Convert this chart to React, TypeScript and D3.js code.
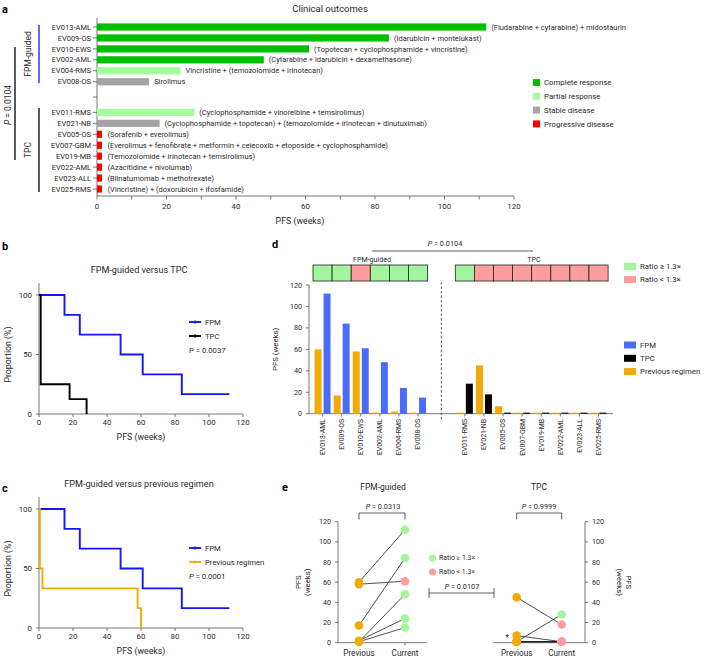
import React from "react";
import * as d3 from "d3";

// ---------- DATA ----------
const patients = ["EV013-AML","EV009-OS","EV010-EWS","EV002-AML","EV004-RMS","EV008-OS","EV011-RMS","EV021-NB","EV005-OS","EV007-GBM","EV019-MB","EV022-AML","EV023-ALL","EV025-RMS"];
const groupOf = ["FPM","FPM","FPM","FPM","FPM","FPM","TPC","TPC","TPC","TPC","TPC","TPC","TPC","TPC"];
const currentPFS = [112,84,61,48,24,15,28,18,1,1,1,1,1,1];
const previousPFS = [60,17,58,1,2,1,1,45,7,1,1,1,1,1];
const outcomes = ["CR","CR","CR","CR","PR","SD","PR","SD","PD","PD","PD","PD","PD","PD"];
const regimens = [
  "(Fludarabine + cytarabine) + midostaurin",
  "(Idarubicin + montelukast)",
  "(Topotecan + cyclophosphamide + vincristine)",
  "(Cytarabine + idarubicin + dexamethasone)",
  "Vincristine + (temozolomide + irinotecan)",
  "Sirolimus",
  "(Cyclophosphamide + vinorelbine + temsirolimus)",
  "(Cyclophosphamide + topotecan) + (temozolomide + irinotecan + dinutuximab)",
  "(Sorafenib + everolimus)",
  "(Everolimus + fenofibrate + metformin + celecoxib + etoposide + cyclophosphamide)",
  "(Temozolomide + irinotecan + temsirolimus)",
  "(Azacitidine + nivolumab)",
  "(Blinatumomab + methotrexate)",
  "(Vincristine) + (doxorubicin + ifosfamide)",
];
const ratioClass = ["hi","hi","lo","hi","hi","hi","hi","lo","lo","lo","lo","lo","lo","lo"];
const outcomeLabels = ["Complete response","Partial response","Stable disease","Progressive disease"];
const outcomeKeys = ["CR","PR","SD","PD"];

// Kaplan–Meier event times (weeks); censored flag
const kmFPM = [[15,0],[24,0],[48,0],[61,0],[84,0],[112,1]];
const kmTPC = [[1,0],[1,0],[1,0],[1,0],[1,0],[1,0],[18,0],[28,0]];
const kmPrev = [[0.5,0],[0.5,0],[0.5,0],[2,0],[58,0],[60,0]];

const kmTicksX = [0,20,40,60,80,100,120];
const kmTicksY = [0,50,100];
const pfsTicks = [0,20,40,60,80,100,120];

// ---------- STYLE ----------
const FONT = "Roboto, 'Liberation Sans', Arial, sans-serif";
const TXT = "#2a2a2a";
const AX = "#555";
const outColor: Record<string,string> = { CR: "#00bf00", PR: "#a3fd9d", SD: "#a4a4a4", PD: "#ff0000" };
const ratioColor: Record<string,string> = { hi: "#a3f59d", lo: "#ff9d9d" };
const BLUE_KM = "#1414ff";
const BLUE_BAR = "#4a6cfd";
const ORANGE = "#f2a900";

function kmSteps(ev: number[][]) {
  const sorted = [...ev].sort((a, b) => a[0] - b[0]);
  let n = sorted.length;
  let s = 100;
  const pts: [number, number][] = [[0, 100]];
  const times = Array.from(new Set(sorted.map(d => d[0])));
  for (const t of times) {
    const atT = sorted.filter(d => d[0] === t);
    const deaths = atT.filter(d => d[1] === 0).length;
    if (deaths > 0) s = s * (1 - deaths / n);
    pts.push([t, s]);
    n -= atT.length;
  }
  return pts;
}

function KMPanel({ top, title, series, legend, pText, italicP }: any) {
  const x = d3.scaleLinear().domain([0, 120]).range([39, 243]);
  const y = d3.scaleLinear().domain([0, 100]).range([top + 119, top]);
  const line = d3.line<[number, number]>().x(d => x(d[0])).y(d => y(d[1])).curve(d3.curveStepAfter);
  const axY = top + 119;
  return (
    <g>
      <line x1={39} x2={39} y1={top - 12} y2={axY} stroke={AX} strokeWidth={0.8} />
      <line x1={39} x2={243} y1={axY} y2={axY} stroke={AX} strokeWidth={0.8} />
      {kmTicksX.map(t => (
        <g key={t}>
          <line x1={x(t)} x2={x(t)} y1={axY} y2={axY + 3} stroke={AX} strokeWidth={0.8} />
          <text x={x(t)} y={axY + 11} textAnchor="middle" fontSize={7.9} fill={TXT}>{t}</text>
        </g>
      ))}
      {kmTicksY.map(t => (
        <g key={t}>
          <line x1={36} x2={39} y1={y(t)} y2={y(t)} stroke={AX} strokeWidth={0.8} />
          <text x={32} y={y(t)} dy="0.35em" textAnchor="end" fontSize={7.9} fill={TXT}>{t}</text>
        </g>
      ))}
      <text x={141} y={axY + 26} textAnchor="middle" fontSize={8.8} fill={TXT}>PFS (weeks)</text>
      <text transform={`translate(8,${y(50)}) rotate(-90)`} textAnchor="middle" dy="0.35em" fontSize={8.8} fill={TXT}>Proportion (%)</text>
      <text x={139} y={top - 22} textAnchor="middle" fontSize={9.1} fill={TXT}>{title}</text>
      {series.map((s: any, i: number) => (
        <path key={i} d={line(kmSteps(s.ev)) || ""} fill="none" stroke={s.color} strokeWidth={1.9} />
      ))}
      {legend.map((l: any, i: number) => (
        <g key={i}>
          <line x1={189} x2={201} y1={l.y} y2={l.y} stroke={l.color} strokeWidth={1.9} />
          <line x1={195} x2={195} y1={l.y - 2} y2={l.y + 2} stroke={l.color} strokeWidth={0.8} />
          <text x={205} y={l.y} dy="0.35em" fontSize={7.7} fill={TXT}>{l.label}</text>
        </g>
      ))}
      <text x={189} y={legend[legend.length - 1].y + 14} dy="0.35em" fontSize={7.7} fill={TXT}>
        {italicP ? <tspan fontStyle="italic">P</tspan> : "P"} = {pText}
      </text>
    </g>
  );
}

export default function App() {
  // ----- Panel a -----
  const xA = d3.scaleLinear().domain([0, 120]).range([97, 514]);
  const posA = d3.scaleLinear().domain([0, 14.8]).range([27, 189]);
  const slotA = (i: number) => (groupOf[i] === "FPM" ? i : 7.8 + (i - 6));
  const ticksA = d3.range(0, 121, 10);

  // ----- Panel d -----
  const yD = d3.scaleLinear().domain([0, 120]).range([413.7, 285]);
  const slotD = (i: number) => (groupOf[i] === "FPM" ? i : 7.45 + (i - 6));
  const stepD = 19.1;
  const xD0 = 313;
  const cx = (i: number) => xD0 + stepD * (slotD(i) + 0.5);
  const dashX = xD0 + stepD * 6.72;

  // ----- Panel e -----
  const yE = d3.scaleLinear().domain([0, 120]).range([642.7, 521.7]);
  const xEL = d3.scalePoint<string>().domain(["Previous", "Current"]).range([359, 405]);
  const xER = d3.scalePoint<string>().domain(["Previous", "Current"]).range([516.7, 561.7]);
  const fpmIdx = d3.range(0, 6);
  const tpcIdx = d3.range(6, 14);

  return (
    <svg width={711} height={660} style={{ position: "absolute", left: 0, top: 0, background: "#fff" }} fontFamily={FONT}>
      {/* ================= Panel a ================= */}
      <text x={2} y={13} fontSize={11} fontWeight="bold" fill="#000">a</text>
      <text x={330} y={12} textAnchor="middle" fontSize={9.5} fill={TXT}>Clinical outcomes</text>
      <line x1={97} x2={97} y1={18} y2={196} stroke={AX} strokeWidth={0.8} />
      <line x1={97} x2={514} y1={196} y2={196} stroke={AX} strokeWidth={0.8} />
      {ticksA.map(t => (
        <g key={t}>
          <line x1={xA(t)} x2={xA(t)} y1={196} y2={199.5} stroke={AX} strokeWidth={0.8} />
          {t % 20 === 0 && <text x={xA(t)} y={209} textAnchor="middle" fontSize={7.9} fill={TXT}>{t}</text>}
        </g>
      ))}
      <text x={300} y={224} textAnchor="middle" fontSize={8.8} fill={TXT}>PFS (weeks)</text>
      <line x1={93} x2={97} y1={posA(6.4)} y2={posA(6.4)} stroke={AX} strokeWidth={0.8} />
      {patients.map((p, i) => {
        const yc = posA(slotA(i));
        const v = currentPFS[i];
        return (
          <g key={p}>
            <line x1={93} x2={97} y1={yc} y2={yc} stroke={AX} strokeWidth={0.8} />
            <text x={91} y={yc} dy="0.35em" textAnchor="end" fontSize={7.5} fill={TXT}>{p}</text>
            <rect x={xA(0)} y={yc - 3.6} width={xA(v) - xA(0) + (v < 2 ? 1.5 : 0)} height={7.2} fill={outColor[outcomes[i]]} />
            <text x={xA(v) + (v < 2 ? 7 : 5)} y={yc} dy="0.35em" fontSize={7.5} fill={TXT}>{regimens[i]}</text>
          </g>
        );
      })}
      {outcomeKeys.map((k, i) => (
        <g key={k}>
          <rect x={533} y={79 + i * 13.8} width={7} height={7} fill={outColor[k]} />
          <text x={544} y={82.5 + i * 13.8} dy="0.35em" fontSize={7.8} fill={TXT}>{outcomeLabels[i]}</text>
        </g>
      ))}
      {/* group brackets */}
      <line x1={39} x2={39} y1={25} y2={83} stroke="#1414ff" strokeWidth={1.3} />
      <text transform="translate(31,54) rotate(-90)" textAnchor="middle" fontSize={8.5} fill={TXT}>FPM-guided</text>
      <line x1={39} x2={39} y1={108} y2={192} stroke="#000" strokeWidth={1.3} />
      <text transform="translate(31,150) rotate(-90)" textAnchor="middle" fontSize={8.5} fill={TXT}>TPC</text>
      <line x1={15} x2={15} y1={47} y2={160} stroke="#000" strokeWidth={1.3} />
      <text transform="translate(11,105) rotate(-90)" textAnchor="middle" fontSize={8.5} fill={TXT}>
        <tspan fontStyle="italic">P</tspan> = 0.0104
      </text>

      {/* ================= Panel b ================= */}
      <text x={2} y={250} fontSize={11} fontWeight="bold" fill="#000">b</text>
      <KMPanel
        top={295}
        title="FPM-guided versus TPC"
        series={[{ ev: kmFPM, color: BLUE_KM }, { ev: kmTPC, color: "#000" }]}
        legend={[{ y: 322, color: BLUE_KM, label: "FPM" }, { y: 336, color: "#000", label: "TPC" }]}
        pText="0.0037"
        italicP={false}
      />

      {/* ================= Panel c ================= */}
      <text x={2} y={492} fontSize={11} fontWeight="bold" fill="#000">c</text>
      <KMPanel
        top={509}
        title="FPM-guided versus previous regimen"
        series={[{ ev: kmFPM, color: BLUE_KM }, { ev: kmPrev, color: ORANGE }]}
        legend={[{ y: 548, color: BLUE_KM, label: "FPM" }, { y: 562, color: ORANGE, label: "Previous regimen" }]}
        pText="0.0001"
        italicP={true}
      />

      {/* ================= Panel d ================= */}
      <text x={272} y={248} fontSize={11} fontWeight="bold" fill="#000">d</text>
      <text x={445} y={246} textAnchor="middle" fontSize={7.3} fill={TXT}>
        <tspan fontStyle="italic">P</tspan> = 0.0104
      </text>
      <line x1={372} x2={533} y1={251} y2={251} stroke="#333" strokeWidth={0.8} />
      <text x={372} y={261.5} textAnchor="middle" fontSize={7.1} fill={TXT}>FPM-guided</text>
      <text x={534} y={261.5} textAnchor="middle" fontSize={7.1} fill={TXT}>TPC</text>
      {patients.map((p, i) => (
        <rect key={p} x={cx(i) - stepD / 2} y={265} width={stepD} height={16} fill={ratioColor[ratioClass[i]]} stroke="#222" strokeWidth={0.8} />
      ))}
      {[{ k: "hi", l: "Ratio \u2265 1.3\u00d7" }, { k: "lo", l: "Ratio < 1.3\u00d7" }].map((r, i) => (
        <g key={r.k}>
          <rect x={624} y={263 + i * 13} width={12} height={7} fill={ratioColor[r.k]} />
          <text x={640} y={266.5 + i * 13} dy="0.35em" fontSize={7.8} fill={TXT}>{r.l}</text>
        </g>
      ))}
      <line x1={dashX} x2={dashX} y1={282} y2={420} stroke="#333" strokeWidth={0.8} strokeDasharray="2.5,2" />
      <line x1={309} x2={309} y1={285} y2={413.7} stroke={AX} strokeWidth={0.8} />
      <line x1={309} x2={613} y1={413.7} y2={413.7} stroke={AX} strokeWidth={0.8} />
      {pfsTicks.map(t => (
        <g key={t}>
          <line x1={306} x2={309} y1={yD(t)} y2={yD(t)} stroke={AX} strokeWidth={0.8} />
          <text x={302} y={yD(t)} dy="0.35em" textAnchor="end" fontSize={7.2} fill={TXT}>{t}</text>
        </g>
      ))}
      <text transform={`translate(275,${yD(60)}) rotate(-90)`} textAnchor="middle" dy="0.35em" fontSize={7.8} fill={TXT}>PFS (weeks)</text>
      {patients.map((p, i) => (
        <g key={p}>
          <rect x={cx(i) - 8} y={yD(previousPFS[i])} width={7} height={yD(0) - yD(previousPFS[i])} fill={ORANGE} />
          <rect x={cx(i) + 1} y={yD(currentPFS[i])} width={7} height={yD(0) - yD(currentPFS[i])} fill={groupOf[i] === "FPM" ? BLUE_BAR : "#000"} />
          <line x1={cx(i)} x2={cx(i)} y1={413.7} y2={416.5} stroke={AX} strokeWidth={0.8} />
          <text transform={`translate(${cx(i)},419) rotate(-90)`} textAnchor="end" dy="0.35em" fontSize={6.9} fill={TXT}>{p}</text>
        </g>
      ))}
      {[{ c: BLUE_BAR, l: "FPM" }, { c: "#000", l: "TPC" }, { c: ORANGE, l: "Previous regimen" }].map((r, i) => (
        <g key={r.l}>
          <rect x={624} y={341.5 + i * 13.3} width={12} height={7} fill={r.c} />
          <text x={640} y={345 + i * 13.3} dy="0.35em" fontSize={7.8} fill={TXT}>{r.l}</text>
        </g>
      ))}

      {/* ================= Panel e ================= */}
      <text x={282} y={491} fontSize={11} fontWeight="bold" fill="#000">e</text>
      <text x={383} y={490} textAnchor="middle" fontSize={8.5} fill={TXT}>FPM-guided</text>
      <text x={539} y={490} textAnchor="middle" fontSize={8.5} fill={TXT}>TPC</text>
      <line x1={338} x2={338} y1={521.7} y2={642.7} stroke={AX} strokeWidth={0.8} />
      <line x1={338} x2={427} y1={642.7} y2={642.7} stroke={AX} strokeWidth={0.8} />
      {pfsTicks.map(t => (
        <g key={t}>
          <line x1={335} x2={338} y1={yE(t)} y2={yE(t)} stroke={AX} strokeWidth={0.8} />
          <text x={331} y={yE(t)} dy="0.35em" textAnchor="end" fontSize={7.2} fill={TXT}>{t}</text>
          <line x1={585} x2={588} y1={yE(t)} y2={yE(t)} stroke={AX} strokeWidth={0.8} />
          <text x={592} y={yE(t)} dy="0.35em" textAnchor="start" fontSize={7.2} fill={TXT}>{t}</text>
        </g>
      ))}
      <text transform={`translate(303,${yE(60)}) rotate(-90)`} textAnchor="middle" fontSize={7.8} fill={TXT}>
        <tspan x={0} dy="-0.2em">PFS</tspan>
        <tspan x={0} dy="1.15em">(weeks)</tspan>
      </text>
      <line x1={585} x2={585} y1={521.7} y2={642.7} stroke={AX} strokeWidth={0.8} />
      <line x1={493} x2={585} y1={642.7} y2={642.7} stroke={AX} strokeWidth={0.8} />
      <text transform={`translate(627,${yE(60)}) rotate(90)`} textAnchor="middle" fontSize={7.8} fill={TXT}>
        <tspan x={0} dy="0.1em">PFS</tspan>
        <tspan x={0} dy="1.15em">(weeks)</tspan>
      </text>
      {["Previous", "Current"].map(c => (
        <g key={c}>
          <line x1={xEL(c)} x2={xEL(c)} y1={642.7} y2={645.5} stroke={AX} strokeWidth={0.8} />
          <text x={xEL(c)} y={656} textAnchor="middle" fontSize={8.2} fill={TXT}>{c}</text>
          <line x1={xER(c)} x2={xER(c)} y1={642.7} y2={645.5} stroke={AX} strokeWidth={0.8} />
          <text x={xER(c)} y={656} textAnchor="middle" fontSize={8.2} fill={TXT}>{c}</text>
        </g>
      ))}
      {[{ s: xEL, p: "0.0313", cxp: 383 }, { s: xER, p: "0.9999", cxp: 539 }].map((b, i) => (
        <g key={i}>
          <path d={`M${b.s("Previous")},519.5V513H${b.s("Current")}V519.5`} fill="none" stroke="#333" strokeWidth={0.8} />
          <text x={b.cxp} y={509} textAnchor="middle" fontSize={7.3} fill={TXT}>
            <tspan fontStyle="italic">P</tspan> = {b.p}
          </text>
        </g>
      ))}
      <path d="M429,588V598M429,593H494M494,588V598" fill="none" stroke="#333" strokeWidth={0.8} />
      <text x={462} y={588.5} textAnchor="middle" fontSize={7.3} fill={TXT}>
        <tspan fontStyle="italic">P</tspan> = 0.0107
      </text>
      {[{ k: "hi", l: "Ratio \u2265 1.3\u00d7" }, { k: "lo", l: "Ratio < 1.3\u00d7" }].map((r, i) => (
        <g key={r.k}>
          <circle cx={432.5} cy={558 + i * 14} r={3.5} fill={ratioColor[r.k]} />
          <text x={439} y={558 + i * 14} dy="0.35em" fontSize={6.9} fill={TXT}>{r.l}</text>
        </g>
      ))}
      {[{ idx: fpmIdx, s: xEL }, { idx: tpcIdx, s: xER }].map((g, gi) => (
        <g key={gi}>
          {g.idx.map(i => (
            <line key={"l" + i} x1={g.s("Previous")} y1={yE(previousPFS[i])} x2={g.s("Current")} y2={yE(currentPFS[i])} stroke="#222" strokeWidth={0.8} />
          ))}
          {g.idx.map(i => (
            <circle key={"p" + i} cx={g.s("Previous")} cy={yE(previousPFS[i])} r={4.3} fill={ORANGE} />
          ))}
          {g.idx.map(i => (
            <circle key={"c" + i} cx={g.s("Current")} cy={yE(currentPFS[i])} r={4.3} fill={ratioColor[ratioClass[i]]} />
          ))}
        </g>
      ))}
      <text x={507} y={641} textAnchor="middle" fontSize={8.5} fill={TXT}>*</text>
    </svg>
  );
}
